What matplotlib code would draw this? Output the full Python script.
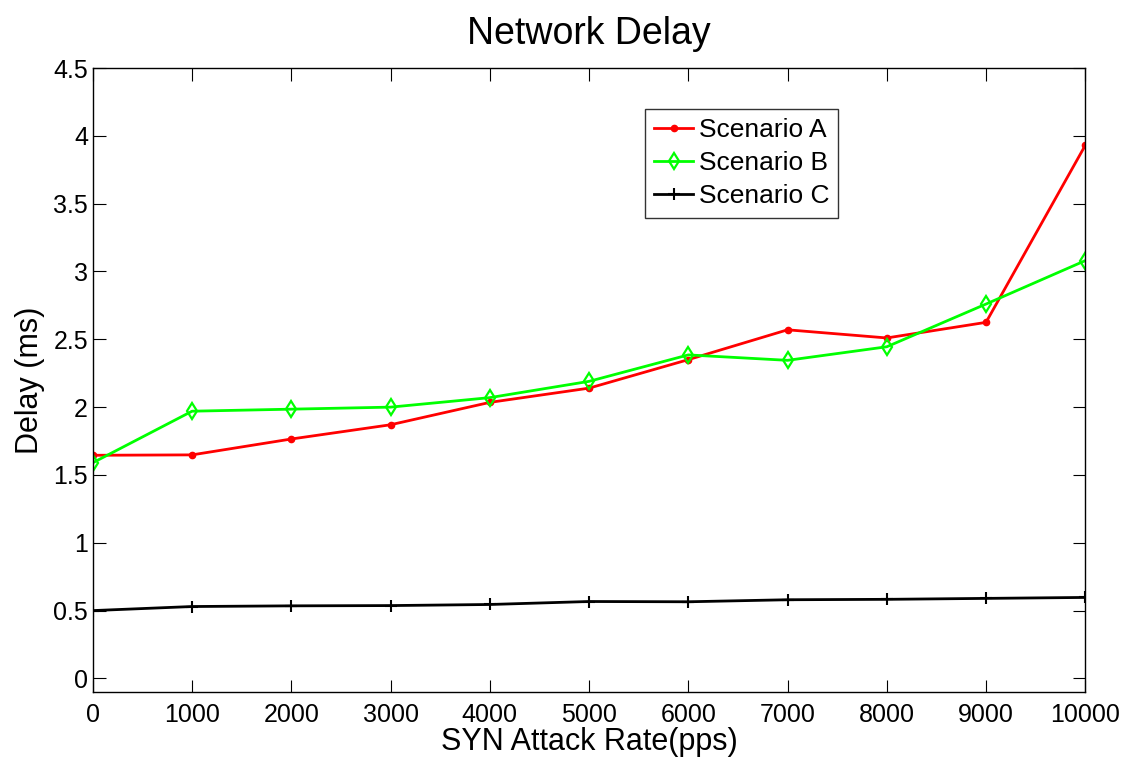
import matplotlib.pyplot as plt
import numpy as np

plt.rcParams['font.family'] = ['Liberation Sans', 'DejaVu Sans']

# SYN attack rate (pps) and measured delays (ms)
rates = [0, 1000, 2000, 3000, 4000, 5000, 6000, 7000, 8000, 9000, 10000]
delay_a = [1.645, 1.648, 1.765, 1.87, 2.035, 2.14, 2.35, 2.57, 2.51, 2.625, 3.93]
delay_b = [1.59, 1.97, 1.985, 2.0, 2.07, 2.19, 2.385, 2.345, 2.445, 2.76, 3.08]
delay_c = [0.50, 0.53, 0.535, 0.537, 0.545, 0.567, 0.565, 0.58, 0.583, 0.59, 0.597]

fig = plt.figure(figsize=(11.46, 7.6), dpi=100)
ax = fig.add_axes([0.081, 0.0895, 0.866, 0.821])

ax.plot(rates, delay_a, color='#ff0000', lw=2, marker='o', ms=4.5, label='Scenario A')
ax.plot(rates, delay_b, color='#00ff00', lw=2, marker='d', ms=8, mfc='none',
        mew=1.6, label='Scenario B')
ax.plot(rates, delay_c, color='black', lw=2, marker='+', ms=8, mew=1.5,
        label='Scenario C')

ax.set_xlim(0, 10000)
ax.set_ylim(-0.1, 4.5)
ax.set_xticks(rates)
ax.set_yticks(np.arange(0, 4.51, 0.5))
ax.set_yticklabels(['0', '0.5', '1', '1.5', '2', '2.5', '3', '3.5', '4', '4.5'])
ax.tick_params(direction='in', top=True, right=True, length=9, labelsize=18)
ax.tick_params(axis='x', pad=8)
for s in ax.spines.values():
    s.set_linewidth(1.0)

ax.set_title('Network Delay', fontsize=27, pad=17)
ax.set_xlabel('SYN Attack Rate(pps)', fontsize=22, labelpad=0)
ax.set_ylabel('Delay (ms)', fontsize=22, labelpad=6)

leg = ax.legend(loc='upper left', bbox_to_anchor=(0.556, 0.935), fontsize=19,
                frameon=True, fancybox=False, edgecolor='black',
                handlelength=1.5, borderpad=0.35, labelspacing=0.35,
                handletextpad=0.2, borderaxespad=0)
leg.get_frame().set_linewidth(1.0)

fig.savefig('out.png', dpi=100)
